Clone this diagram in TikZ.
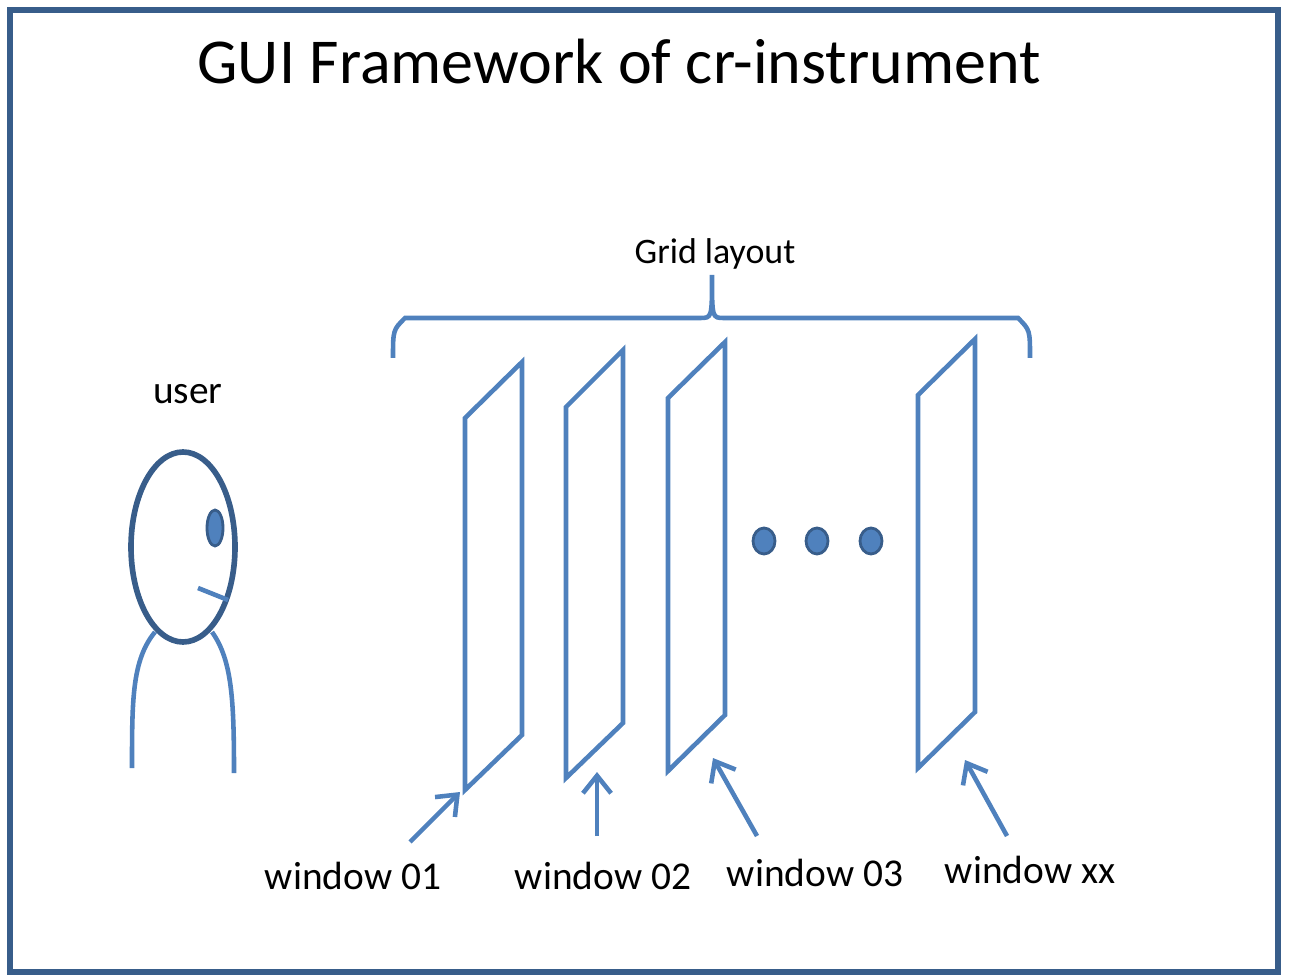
\documentclass[tikz,border=0pt]{standalone}
\usepackage{fontspec}
\setmainfont{Carlito}
\usetikzlibrary{arrows.meta}
\definecolor{wblue}{HTML}{4F81BD}
\definecolor{dblue}{HTML}{385D8A}
\begin{document}
\begin{tikzpicture}[x=0.01cm,y=-0.01cm,
	win/.style={wblue,line width=1.3pt,line join=miter},
	ptr/.style={wblue,line width=1.3pt,-{Straight Barb[length=5pt,width=8pt]}},
	lbl/.style={font=\fontsize{11.2}{13}\selectfont}]
	\useasboundingbox (0,0) rectangle (1289,980);
	\draw[dblue,line width=1.5pt] (10,10) rectangle (1278,972);
	\node[font=\fontsize{18.2}{22}\selectfont] (title) at (619,62) {GUI Framework of cr-instrument};
	
	% windows
	\draw[win] (465,418) -- (522,362) -- (522,735) -- (465,790) -- cycle;
	\draw[win] (566,407) -- (623,350) -- (623,723) -- (566,778) -- cycle;
	\draw[win] (668,398) -- (725,342) -- (725,715) -- (668,771) -- cycle;
	\draw[win] (918,395) -- (975,339) -- (975,712) -- (918,768) -- cycle;
	\coordinate (w1) at (460,792);
	\coordinate (w2) at (597,772);
	\coordinate (w3) at (713,758);
	\coordinate (wx) at (965,760);
	
	% dots
	\foreach \x in {764,817,871}
		\draw[dblue,fill=wblue,line width=0.8pt] (\x,541) ellipse [x radius=11,y radius=13];
	
	% brace
	\draw[wblue,line width=1.3pt] (393,358) .. controls (393,330) .. (405,318) -- (700,318)
		.. controls (712,318) .. (712,275) .. controls (712,318) .. (724,318) -- (1018,318)
		.. controls (1030,330) .. (1030,358);
	\node[font=\fontsize{10.2}{12}\selectfont] (grid) at (715,254) {Grid layout};
	
	% user
	\draw[dblue,line width=1.6pt] (183,547) ellipse [x radius=52,y radius=95];
	\draw[dblue,fill=wblue,line width=0.8pt] (215,528) ellipse [x radius=8,y radius=18];
	\draw[wblue,line width=1.3pt] (198,588) -- (228,600);
	\draw[wblue,line width=1.3pt] (155,632) .. controls (132,660) and (132,700) .. (132,768);
	\draw[wblue,line width=1.3pt] (212,632) .. controls (232,660) and (234,700) .. (234,773);
	\node[lbl] (user) at (188,394) {user};
	
	% labels and pointers
	\node[lbl] (l1) at (353,876) {window 01};
	\node[lbl] (l2) at (603,876) {window 02};
	\node[lbl] (l3) at (815,873) {window 03};
	\node[lbl] (lx) at (1030,870) {window xx};
	\draw[ptr] (410,842) -- (w1);
	\draw[ptr] (597,836) -- (w2);
	\draw[ptr] (757,836) -- (w3);
	\draw[ptr] (1007,836) -- (wx);
\end{tikzpicture}
\end{document}
